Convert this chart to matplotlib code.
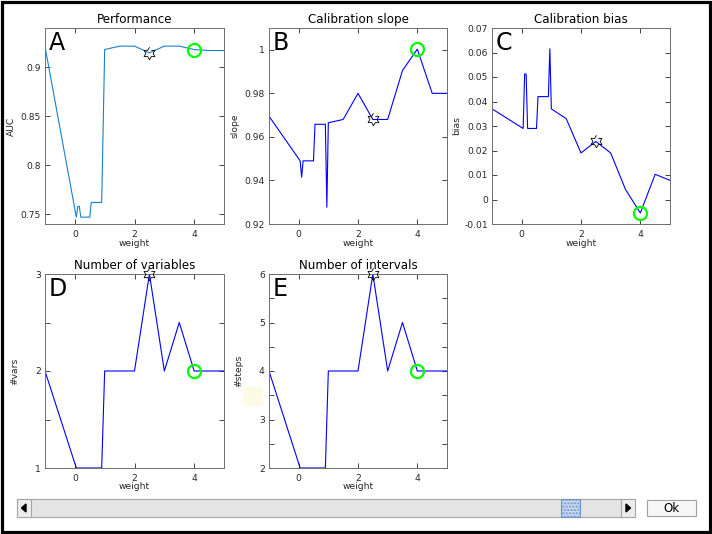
import numpy as np
import matplotlib
matplotlib.use("Agg")
import matplotlib.pyplot as plt
from matplotlib.patches import Rectangle, Polygon
from matplotlib.ticker import FuncFormatter

# values
weight = [-1, 0.05, 0.1, 0.15, 0.2, 0.5, 0.55, 0.9, 0.95, 1.0, 1.5, 2, 2.5, 3, 3.5, 4, 4.5, 5]
auc = [0.921, 0.747, 0.758, 0.758, 0.747, 0.747, 0.762, 0.762, 0.84, 0.918,
       0.9215, 0.9215, 0.9146, 0.9215, 0.9215, 0.918, 0.917, 0.917]
slope = [0.9695, 0.949, 0.9415, 0.949, 0.949, 0.949, 0.9658, 0.9658, 0.9277, 0.9665,
         0.968, 0.980, 0.968, 0.968, 0.9905, 1.0003, 0.980, 0.980]
bias = [0.037, 0.029, 0.0512, 0.0512, 0.029, 0.029, 0.042, 0.042, 0.0615, 0.037,
        0.033, 0.019, 0.0237, 0.019, 0.0041, -0.0055, 0.0103, 0.0078]
nvars = [2, 1, 1, 1, 1, 1, 1, 1, 1.5, 2, 2, 2, 3, 2, 2.5, 2, 2, 2]
nsteps = [4, 2, 2, 2, 2, 2, 2, 2, 3, 4, 4, 4, 6, 4, 5, 4, 4, 4]

star_w = 2.5   # hexagram marker
best_w = 4     # green circle

titles = ["Performance", "Calibration slope", "Calibration bias",
          "Number of variables", "Number of intervals"]
ylabels = ["AUC", "slope", "bias", "#vars", "#steps"]
letters = ["A", "B", "C", "D", "E"]

W, H = 712, 534


def px_box(l, t, r, b):
    return [l / W, 1 - b / H, (r - l) / W, (b - t) / H]


# six pointed star marker
ang = np.deg2rad(90 + 30 * np.arange(12))
rad = np.where(np.arange(12) % 2 == 0, 1.0, 1 / np.sqrt(3))
hexagram = np.column_stack([rad * np.cos(ang), rad * np.sin(ang)])

fig = plt.figure(figsize=(W / 100, H / 100), dpi=100)
fig.patch.set_facecolor("white")

# window background / widgets
bg = fig.add_axes([0, 0, 1, 1], zorder=0)
bg.set_xlim(0, W)
bg.set_ylim(H, 0)
bg.axis("off")
bg.add_patch(Rectangle((1.5, 1.5), 708.5, 530.5, fill=False, edgecolor="black", lw=2.3))
bg.add_patch(Rectangle((243, 387), 20, 19, facecolor="#fdfbe6", edgecolor="none"))
bg.add_patch(Rectangle((17, 499), 618, 18, facecolor="#e4e4e4", edgecolor="#a6a6a6", lw=0.8))
bg.add_patch(Rectangle((17, 499), 14, 18, facecolor="#ececec", edgecolor="#a6a6a6", lw=0.8))
bg.add_patch(Rectangle((621, 499), 14, 18, facecolor="#ececec", edgecolor="#a6a6a6", lw=0.8))
bg.add_patch(Polygon([(21.5, 508), (26, 504), (26, 512)], closed=True, color="black"))
bg.add_patch(Polygon([(630.5, 508), (626, 504), (626, 512)], closed=True, color="black"))
bg.add_patch(Rectangle((561, 499), 19, 18, facecolor="#c9d7ee", edgecolor="#6f94cc",
                       lw=0.8, hatch="....."))
bg.add_patch(Rectangle((647, 500), 49, 16, facecolor="#f7f7f7", edgecolor="#a0a0a0", lw=0.8))
bg.text(671.5, 508.5, "Ok", ha="center", va="center", fontsize=8.5, color="black")

boxes = [(45, 28, 224, 224), (269, 28, 447, 224), (492, 28, 670, 224),
         (45, 274, 224, 468), (269, 274, 447, 468)]
series = [auc, slope, bias, nvars, nsteps]
colors = ["#1a80cc", "blue", "blue", "blue", "blue"]
ylims = [(0.74, 0.94), (0.92, 1.01), (-0.01, 0.07), (1, 3), (2, 6)]
yticks = [np.arange(0.75, 0.91, 0.05), np.arange(0.92, 1.001, 0.02),
          np.arange(-0.01, 0.0701, 0.01), np.arange(1, 3.01, 0.5), np.arange(2, 6.01, 0.5)]
ylab_x = [-0.162, -0.167, -0.174, -0.145, -0.144]

iw_star = weight.index(star_w)
iw_best = weight.index(best_w)

fmt_g = FuncFormatter(lambda v, p: "%g" % round(v, 4))
fmt_int = FuncFormatter(lambda v, p: "%d" % v if abs(v - round(v)) < 1e-6 else "")

for k in range(5):
    ax = fig.add_axes(px_box(*boxes[k]), zorder=2)
    y = series[k]
    ax.plot(weight, y, color=colors[k], lw=0.8)
    ax.plot(weight[iw_star], y[iw_star], marker=hexagram, ms=9, mfc="none",
            mec="black", mew=0.6, ls="none", clip_on=False, zorder=3)
    ax.plot(weight[iw_best], y[iw_best], marker="o", ms=9.4, mfc="none",
            mec="#00ff00", mew=1.6, ls="none", clip_on=False, zorder=3)
    ax.set_xlim(-1, 5)
    ax.set_ylim(*ylims[k])
    ax.set_xticks([0, 2, 4])
    ax.set_yticks(yticks[k])
    ax.yaxis.set_major_formatter(fmt_int if k >= 3 else fmt_g)
    ax.tick_params(direction="in", length=3.5, width=0.6, top=True, right=True,
                   labelsize=6.6, colors="#262626", pad=3)
    ax.tick_params(axis="x", pad=4.5)
    for s in ax.spines.values():
        s.set_color("#6e6e6e")
        s.set_linewidth(0.7)
    ax.set_title(titles[k], fontsize=8.6, pad=3.5, color="black")
    ax.set_xlabel("weight", fontsize=6.6, color="#262626")
    ax.xaxis.set_label_coords(0.5, -0.074)
    ax.set_ylabel(ylabels[k], fontsize=6.6, color="#262626")
    ax.yaxis.set_label_coords(ylab_x[k], 0.5)
    ax.text(0.02, 0.985, letters[k], transform=ax.transAxes, fontsize=17,
            ha="left", va="top", color="black")

fig.savefig("out.png", dpi=100)
